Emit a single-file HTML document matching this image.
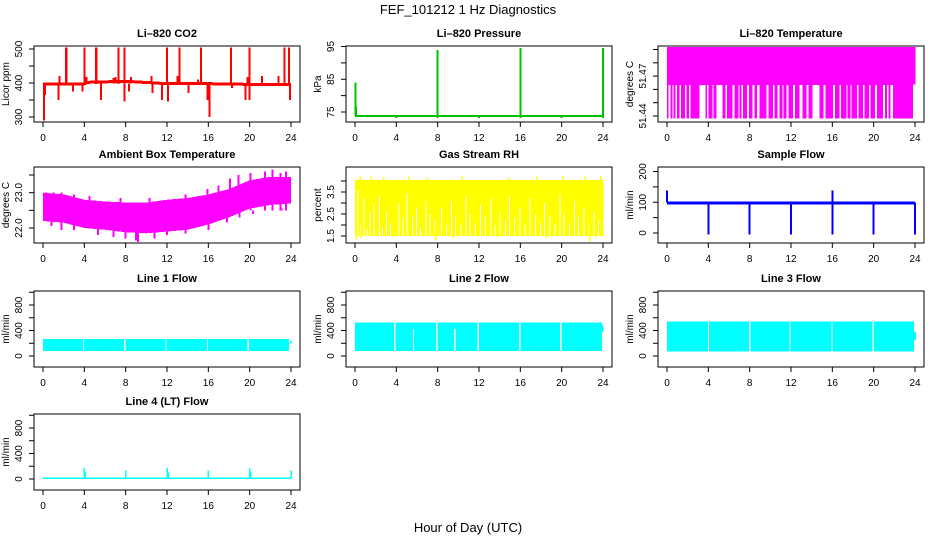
<!DOCTYPE html>
<html><head><meta charset="utf-8"><style>
html,body{margin:0;padding:0;background:#fff;}
svg{display:block;font-family:"Liberation Sans",sans-serif;}
</style></head><body>
<svg id="fig" width="936" height="540" viewBox="0 0 936 540" xmlns="http://www.w3.org/2000/svg">
<rect width="936" height="540" fill="#fff"/>
<text x="468" y="14" text-anchor="middle" font-size="13">FEF_101212  1 Hz Diagnostics</text>
<text x="468" y="532" text-anchor="middle" font-size="13">Hour of Day (UTC)</text>
</svg>
<script>
// ---- data (hours / values) ----
const xTicks = [0,4,8,12,16,20,24];
// CO2
const co2BaseHours = [0,4,4.3,8,12,16,20,24];
const co2BaseVals = [397,397,402,405,398,398,396,395];
const co2SpikeHours = [2.25,4.0,5.15,7.3,7.9,12.0,13.2,15.3,18.2,20.0,23.35,23.8];
const co2SpikeTops = [505,505,505,505,505,505,505,505,505,505,505,505];
const co2DipHours = [0.1,0.2,1.5,2.9,3.8,5.6,7.9,8.3,10.6,11.5,12.1,14.1,15.9,16.1,18.3,19.6,20.0,23.9];
const co2DipBottoms = [290,365,350,375,375,350,345,375,370,350,345,370,350,300,385,350,350,350];
const co2BumpHours = [1.6,4.2,6.8,7.0,8.5,10.5,13.0,15.0,19.8,21.2,22.8];
const co2BumpTops = [420,418,415,418,418,420,420,410,418,420,420];
// Pressure
const presBase = 73.8;
const presSpikeHours = [0.05,0.1,8.0,16.0,24.0];
const presSpikeTops = [84,76.5,94,94.5,94.5];
const presDipHours = [4,8,12,16,20,24];
const presDipVals = [73.1,73.1,73.1,73.1,73.1,73.1];
// Li-820 temperature
const ltTop = 51.492, ltMid = 51.4635, ltLow = 51.438;
const ltGapStart = [0.16,0.52,0.84,1.23,1.74,2.13,3.16,3.87,4.39,4.77,5.68,6.32,6.9,7.23,7.74,8.26,8.71,9.61,10.26,10.71,11.16,11.55,12.19,12.84,13.48,14.06,15.16,16.06,16.71,17.35,17.74,18.39,18.97,19.55,20.13,20.9,21.29,21.61];
const ltGapEnd = [0.32,0.65,0.97,1.35,1.87,2.26,3.74,4.0,4.52,5.35,5.81,6.52,7.03,7.35,7.94,8.45,8.97,9.81,10.39,10.9,11.29,11.74,12.39,13.1,13.68,14.77,15.35,16.26,16.84,17.48,17.87,18.52,19.1,19.68,20.32,21.1,21.42,21.87];
// Ambient box temperature
const ambHours = [0,2,4,6,8,10,12,14,16,18,20,22,24];
const ambUpper = [23.0,22.95,22.8,22.75,22.72,22.72,22.8,22.85,22.95,23.1,23.35,23.45,23.45];
const ambLower = [22.2,22.15,22.0,21.95,21.88,21.85,21.9,21.95,22.1,22.3,22.55,22.65,22.7];
const ambUpHours = [0.3,1.0,1.8,3.0,4.5,7.5,10.3,13.8,15.9,17.0,18.1,18.9,20.1,21.5,22.2,23.0,23.5];
const ambUpVals = [23.0,23.0,23.0,22.95,22.9,22.85,22.85,22.95,23.1,23.2,23.4,23.5,23.55,23.6,23.65,23.55,23.6];
const ambDownHours = [0.8,1.8,3.0,5.3,6.8,8.0,9.0,9.2,10.8,12.0,13.8,16.0,17.8,19.0,20.3,21.8,23.1];
const ambDownVals = [22.05,21.95,21.95,21.8,21.75,21.7,21.65,21.6,21.7,21.8,21.85,21.95,22.15,22.3,22.4,22.5,22.55];
// Gas stream RH
const rhTop = 4.05, rhBottom = 1.5;
const rhGapHours = [0.25,0.5,0.8,1.1,1.4,1.8,2.3,2.6,3.0,3.4,4.2,4.6,5.0,5.5,5.9,6.3,6.8,7.2,7.7,8.3,8.8,9.3,9.7,10.2,10.7,11.1,11.6,12.1,12.6,13.1,13.5,14.0,14.5,14.9,15.4,15.9,16.4,16.9,17.4,17.9,18.3,18.8,19.3,19.8,20.2,20.7,21.2,21.6,22.1,22.6,23.1,23.5];
const rhGapTops = [3.6,2.0,3.2,1.8,2.6,2.9,3.3,1.9,2.6,2.1,3.0,2.3,3.4,2.4,2.8,1.9,3.1,2.5,2.2,2.8,2.0,3.1,2.4,2.0,3.3,2.5,2.1,2.9,2.4,3.2,2.0,2.6,2.2,3.3,2.3,2.8,2.0,3.2,2.5,2.1,3.0,2.4,2.0,3.4,2.6,2.1,3.1,2.4,2.8,2.0,2.6,2.2];
const rhLowHours = [0.1,0.6,3.7,7.8,9.5,13.8,18.5,22.7,23.3];
const rhLowVals = [1.35,1.4,1.45,1.3,1.4,1.45,1.4,1.25,1.45];
const rhHighHours = [0.5,1.5,2.8,5.2,7.0,10.4,14.9,17.6,20.1,22.3,23.8];
const rhHighVals = [4.2,4.2,4.15,4.2,4.15,4.2,4.15,4.2,4.25,4.2,4.25];
// Sample flow
const sfLow = 93, sfHigh = 103;
const sfSpikeHours = [0.0,16.0];
const sfSpikeTops = [138,138];
const sfDipHours = [4.0,8.0,12.0,16.0,20.0,24.0];
const sfDipBottoms = [-5,-5,-5,-5,-5,-5];
// Line flows
const l1Low = 80, l1High = 265;
const l1GapHours = [3.85,7.85,11.85,15.85,19.8];
const l2Low = 80, l2High = 525;
const l2GapHours = [3.75,7.85,11.85,15.85,19.85];
const l2PartialHours = [5.6,9.6];
const l3Low = 70, l3High = 540;
const l3GapHours = [3.95,7.95,11.85,15.9,19.9];
const l4Low = 0, l4High = 20;
const l4SpikeHours = [4.0,4.1,8.0,12.0,12.1,16.0,20.0,20.1,24.0];
const l4SpikeTops = [170,110,130,170,100,130,170,110,130];

// ---- layout ----
const NS = "http://www.w3.org/2000/svg";
const svg = document.getElementById('fig');
const colLeft = [34,346,658], rowTop = [46,167,291,414], W = 266, H = 76;
const flowTicks = [0,200,400,600,800,1000];
const panels = [
 {key:'co2',c:0,r:0,title:'Li\u2013820 CO2',ylab:'Licor ppm',v:[500,300],o:[3,71],ticks:[300,350,400,450,500],labels:['300','400','500'],lv:[300,400,500]},
 {key:'pres',c:1,r:0,title:'Li\u2013820 Pressure',ylab:'kPa',v:[95,75],o:[0.5,66],ticks:[75,80,85,90,95],labels:['75','85','95'],lv:[75,85,95]},
 {key:'ltemp',c:2,r:0,title:'Li\u2013820 Temperature',ylab:'degrees C',v:[51.49,51.44],o:[3.5,70],ticks:[51.44,51.45,51.46,51.47,51.48,51.49],labels:['51.44','51.47'],lv:[51.44,51.47]},
 {key:'amb',c:0,r:1,title:'Ambient Box Temperature',ylab:'degrees C',v:[23.5,22.0],o:[8,61],ticks:[22.0,22.5,23.0,23.5],labels:['22.0','23.0'],lv:[22.0,23.0]},
 {key:'rh',c:1,r:1,title:'Gas Stream RH',ylab:'percent',v:[3.5,1.5],o:[25,69],ticks:[1.5,2,2.5,3,3.5,4],labels:['1.5','2.5','3.5'],lv:[1.5,2.5,3.5]},
 {key:'sf',c:2,r:1,title:'Sample Flow',ylab:'ml/min',v:[200,0],o:[4.5,66],ticks:[0,50,100,150,200],labels:['0','100','200'],lv:[0,100,200]},
 {key:'l1',c:0,r:2,title:'Line 1 Flow',ylab:'ml/min',v:[800,0],o:[14,65],ticks:flowTicks,labels:['0','400','800'],lv:[0,400,800]},
 {key:'l2',c:1,r:2,title:'Line 2 Flow',ylab:'ml/min',v:[800,0],o:[14,65],ticks:flowTicks,labels:['0','400','800'],lv:[0,400,800]},
 {key:'l3',c:2,r:2,title:'Line 3 Flow',ylab:'ml/min',v:[800,0],o:[14,65],ticks:flowTicks,labels:['0','400','800'],lv:[0,400,800]},
 {key:'l4',c:0,r:3,title:'Line 4 (LT) Flow',ylab:'ml/min',v:[800,0],o:[14,65],ticks:flowTicks,labels:['0','400','800'],lv:[0,400,800]}
];
function mk(tag, attrs, parent){const e=document.createElementNS(NS,tag);for(const k in attrs)e.setAttribute(k,attrs[k]);(parent||svg).appendChild(e);return e;}

panels.forEach(p=>{
  const L=colLeft[p.c], T=rowTop[p.r];
  const xs=h=>L+9+h*248/24;
  const ys=v=>T+p.o[0]+(v-p.v[0])*(p.o[1]-p.o[0])/(p.v[1]-p.v[0]);
  const g=mk('g',{});
  
  
  const clip=mk('clipPath',{id:'clip-'+p.key},g);
  mk('rect',{x:L,y:T,width:W,height:H},clip);
  const plot=mk('g',{'clip-path':'url(#clip-'+p.key+')','shape-rendering':'crispEdges'},g);
  
  
  const vline=(h,a,b,col,w)=>{const e=mk('line',{x1:xs(h),x2:xs(h),y1:ys(a),y2:ys(b),stroke:col,'stroke-width':w||1.5},plot);return e;};
  const band=(h1,h2,a,b,col)=>{const x1=xs(h1),x2=xs(h2),y1=ys(b),y2=ys(a);const e=mk('rect',{x:Math.min(x1,x2),y:Math.min(y1,y2),width:Math.max(1,Math.abs(x2-x1)),height:Math.abs(y2-y1),fill:col},plot);return e;};

  if(p.key==='co2'){
    const col='#ff0000';
    co2SpikeHours.forEach((h,i)=>{band(h-0.1,h+0.1,co2BaseVals[0],co2SpikeTops[i],col);});
    co2DipHours.forEach((h,i)=>vline(h,398,co2DipBottoms[i],col,2));
    co2BumpHours.forEach((h,i)=>vline(h,398,co2BumpTops[i],col,2));
    const pl=mk('polyline',{points:co2BaseHours.map((h,i)=>xs(h)+','+ys(co2BaseVals[i])).join(' '),fill:'none',stroke:col,'stroke-width':3},plot);
    
    
  } else if(p.key==='pres'){
    const col='#00c000';
    const bl=mk('line',{x1:xs(0),x2:xs(24),y1:ys(presBase),y2:ys(presBase),stroke:col,'stroke-width':2},plot);
    
    
    presSpikeHours.forEach((h,i)=>vline(h,presBase,presSpikeTops[i],col,2));
    presDipHours.forEach((h,i)=>vline(h,presBase,presDipVals[i],col,2));
  } else if(p.key==='ltemp'){
    const col='#ff00ff';
    band(0,24.05,ltMid,ltTop,col);
    band(0,23.8,ltLow,ltMid,col);
    ltGapStart.forEach((s,i)=>band(s,ltGapEnd[i],ltLow-0.002,ltMid-0.0003,'#ffffff'));
  } else if(p.key==='amb'){
    const col='#ff00ff';
    const pts=ambHours.map((h,i)=>xs(h)+','+ys(ambUpper[i])).concat(ambHours.slice().reverse().map((h,i)=>xs(h)+','+ys(ambLower[ambHours.length-1-i])));
    const pg=mk('polygon',{points:pts.join(' '),fill:col},plot);
    
    
    ambUpHours.forEach((h,i)=>vline(h,22.5,ambUpVals[i],col,2));
    ambDownHours.forEach((h,i)=>vline(h,22.5,ambDownVals[i],col,2));
  } else if(p.key==='rh'){
    const col='#ffff00';
    band(0,24.05,rhBottom,rhTop,col);
    rhGapHours.forEach((h,i)=>band(h,h+0.09,1.0,rhGapTops[i],'#ffffff'));
    rhLowHours.forEach((h,i)=>vline(h,2.0,rhLowVals[i],col,1.5));
    rhHighHours.forEach((h,i)=>vline(h,3.8,rhHighVals[i],col,1.5));
  } else if(p.key==='sf'){
    const col='#0000ff';
    band(0,24,sfLow,sfHigh,col);
    sfSpikeHours.forEach((h,i)=>vline(h,100,sfSpikeTops[i],col,2));
    sfDipHours.forEach((h,i)=>vline(h,100,sfDipBottoms[i],col,2));
  } else if(p.key==='l1'){
    const col='#00ffff';
    band(0,23.8,l1Low,l1High,col);
    l1GapHours.forEach(h=>band(h,h+0.12,0,300,'#ffffff'));
    band(23.9,24.05,200,240,col);
  } else if(p.key==='l2'){
    const col='#00ffff';
    band(0,23.9,l2Low,l2High,col);
    band(23.9,24.05,380,480,col);
    l2GapHours.forEach(h=>band(h,h+0.15,0,560,'#ffffff'));
    l2PartialHours.forEach(h=>band(h,h+0.12,0,420,'#ffffff'));
  } else if(p.key==='l3'){
    const col='#00ffff';
    band(0,23.9,l3Low,l3High,col);
    band(23.9,24.1,250,380,col);
    l3GapHours.forEach(h=>band(h,h+0.12,0,600,'#ffffff'));
  } else if(p.key==='l4'){
    const col='#00ffff';
    band(0,24,l4Low,l4High,col);
    l4SpikeHours.forEach((h,i)=>vline(h,10,l4SpikeTops[i],col,1.5));
  }

  // box
  const box=mk('rect',{x:L,y:T,width:W,height:H,fill:'none',stroke:'#000','stroke-width':1},g);
  
  
  // title
  const t=mk('text',{x:L+W/2,y:T-9,'text-anchor':'middle','font-size':11,'font-weight':'bold'},g);
  t.textContent=p.title;
  
  
  // x axis
  xTicks.forEach(h=>{
    const tk=mk('line',{x1:xs(h),x2:xs(h),y1:T+H,y2:T+H+5,stroke:'#000'},g);
    
    
    const tl=mk('text',{x:xs(h),y:T+H+19,'text-anchor':'middle','font-size':10},g);
    tl.textContent=String(h);
    
    
  });
  // y axis
  p.ticks.forEach(v=>{
    const tk=mk('line',{x1:L-5,x2:L,y1:ys(v),y2:ys(v),stroke:'#000'},g);
    
    
  });
  p.lv.forEach((v,i)=>{
    const yy=ys(v), xx=L-12;
    const tl=mk('text',{x:xx,y:yy,'text-anchor':'middle','font-size':10,transform:'rotate(-90 '+xx+' '+yy+')'},g);
    tl.textContent=p.labels[i];
    
    
  });
  const yl=mk('text',{x:L-25,y:T+H/2,'text-anchor':'middle','font-size':10,transform:'rotate(-90 '+(L-25)+' '+(T+H/2)+')'},g);
  yl.textContent=p.ylab;
  
  
});
</script>
</body></html>
